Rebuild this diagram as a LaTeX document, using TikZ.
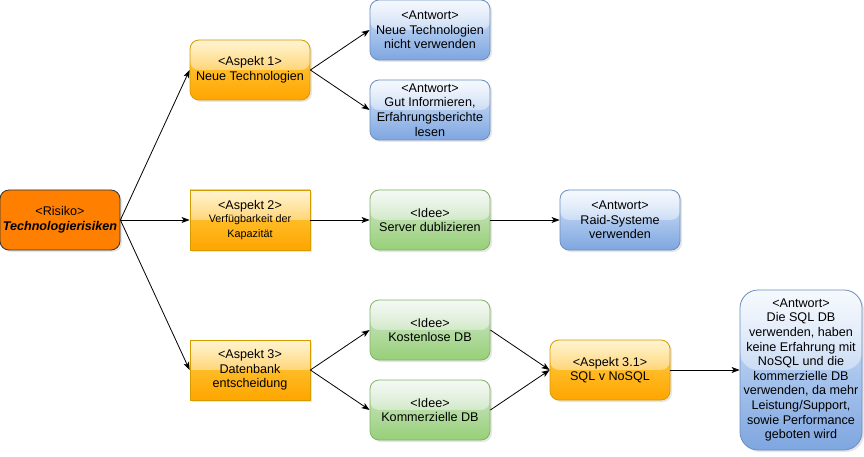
\documentclass[tikz,border=0pt]{standalone}
\usepackage{fontspec}
\setmainfont{Liberation Sans}
\usetikzlibrary{arrows.meta,shadows,fadings}

\definecolor{risikofill}{HTML}{FF8000}
\definecolor{aspekttop}{HTML}{FFD24A}
\definecolor{aspektbot}{HTML}{FFA500}
\definecolor{aspektline}{HTML}{D79B00}
\definecolor{antworttop}{HTML}{DAE8FC}
\definecolor{antwortbot}{HTML}{7EA6E0}
\definecolor{antwortline}{HTML}{6C8EBF}
\definecolor{ideetop}{HTML}{D5E8D4}
\definecolor{ideebot}{HTML}{97D077}
\definecolor{ideeline}{HTML}{82B366}

\newcommand{\klein}{\fontsize{10.8}{11.5}\selectfont}

\begin{document}
\begin{tikzpicture}[x=1pt, y=-1pt, >={Stealth[length=8pt, width=6pt, inset=2pt]},
    every node/.style={font=\fontsize{12.6}{14.6}\selectfont, align=center, inner sep=0pt},
    box/.style={draw=#1, line width=0.8pt, minimum width=120pt, minimum height=60pt,
        drop shadow={opacity=0.2, shadow xshift=2pt, shadow yshift=-2pt}},
    glass/.style={path picture={\fill[white, path fading=south, opacity=0.75]
        (path picture bounding box.north west) rectangle (path picture bounding box.east);}},
    risiko/.style={box=black!80, fill=risikofill, rounded corners=9pt},
    aspekt/.style={box=aspektline, top color=aspekttop, bottom color=aspektbot, glass},
    antwort/.style={box=antwortline, top color=antworttop, bottom color=antwortbot, glass, rounded corners=9pt},
    idee/.style={box=ideeline, top color=ideetop, bottom color=ideebot, glass, rounded corners=9pt},
    link/.style={->, line width=0.8pt}]
    \useasboundingbox (0,0) rectangle (864,457);

    \node (risiko) [risiko] at (60,220) {<Risiko>\\\textbf{\textit{Technologierisiken}}};

    \node (aspekt1) [aspekt, rounded corners=9pt] at (250,70) {<Aspekt 1>\\Neue Technologien};
    \node (aspekt2) [aspekt] at (250,220) {<Aspekt 2>\\[-2pt]\klein Verfügbarkeit der\\\klein Kapazität};
    \node (aspekt3) [aspekt] at (250,370) {<Aspekt 3>\\Datenbank\\entscheidung};

    \node (antwort1) [antwort] at (430,30) {<Antwort>\\Neue Technologien\\nicht verwenden};
    \node (antwort2) [antwort] at (430,110) {<Antwort>\\Gut Informieren,\\Erfahrungsberichte\\lesen};

    \node (server) [idee] at (430,220) {<Idee>\\Server dublizieren};
    \node (raid) [antwort] at (620,220) {<Antwort>\\Raid-Systeme\\verwenden};

    \node (kostenlos) [idee] at (430,330) {<Idee>\\Kostenlose DB};
    \node (kommerz) [idee] at (430,410) {<Idee>\\Kommerzielle DB};
    \node (aspekt31) [aspekt, rounded corners=9pt] at (610,370) {<Aspekt 3.1>\\SQL v NoSQL};
    \node (antwort3) [antwort, minimum width=122pt, minimum height=160pt, rounded corners=18pt] at (801,370)
        {<Antwort>\\Die SQL DB\\verwenden, haben\\keine Erfahrung mit\\NoSQL und die\\kommerzielle DB\\verwenden, da mehr\\Leistung/Support,\\sowie Performance\\geboten wird};

    \draw[link] (risiko.east) -- (aspekt1.west);
    \draw[link] (risiko.east) -- (aspekt2.west);
    \draw[link] (risiko.east) -- (aspekt3.west);
    \draw[link] (aspekt1.east) -- (antwort1.west);
    \draw[link] (aspekt1.east) -- (antwort2.west);
    \draw[link] (aspekt2.east) -- (server.west);
    \draw[link] (server.east) -- (raid.west);
    \draw[link] (aspekt3.east) -- (kostenlos.west);
    \draw[link] (aspekt3.east) -- (kommerz.west);
    \draw[link] (kostenlos.east) -- (aspekt31.west);
    \draw[link] (kommerz.east) -- (aspekt31.west);
    \draw[link] (aspekt31.east) -- (antwort3.west);
\end{tikzpicture}
\end{document}
